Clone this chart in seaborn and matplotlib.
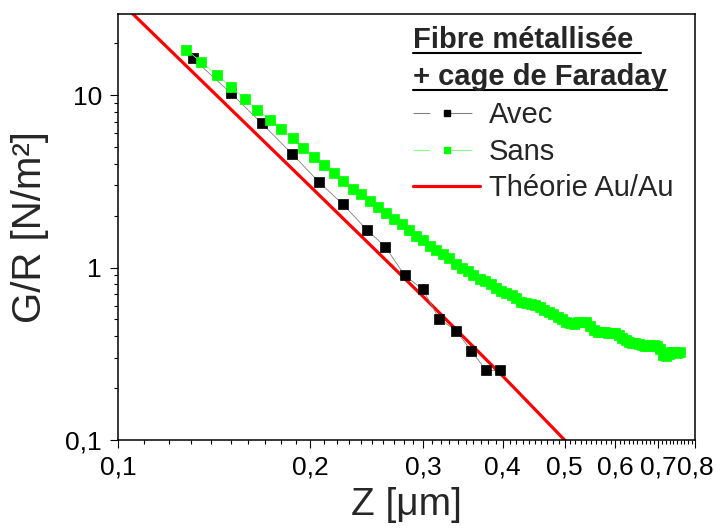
import matplotlib
matplotlib.use('Agg')
import matplotlib.pyplot as plt
import seaborn as sns
import numpy as np
from matplotlib.lines import Line2D
from matplotlib.ticker import FixedLocator, FixedFormatter, LogLocator, NullFormatter

# Data (log-log)
avec_z = [0.131, 0.150, 0.168, 0.187, 0.206, 0.225, 0.245, 0.262, 0.281, 0.300,
          0.318, 0.338, 0.357, 0.377, 0.396]
avec_g = [16.3, 10.3, 6.84, 4.58, 3.15, 2.32, 1.66, 1.32, 0.90, 0.746,
          0.506, 0.431, 0.330, 0.253, 0.253]

sans_z = [0.128, 0.135, 0.143, 0.150, 0.158, 0.165, 0.173, 0.180, 0.188, 0.195,
          0.203, 0.210, 0.218, 0.225, 0.233, 0.240, 0.248, 0.255, 0.263, 0.270,
          0.278, 0.285, 0.293, 0.300, 0.308, 0.315, 0.323, 0.330, 0.338, 0.345,
          0.353, 0.360, 0.368, 0.375, 0.383, 0.390, 0.398, 0.405, 0.413, 0.420,
          0.428, 0.435, 0.443, 0.450, 0.458, 0.465, 0.473, 0.480, 0.488, 0.495,
          0.503, 0.510, 0.518, 0.525, 0.533, 0.540, 0.548, 0.555, 0.563, 0.570,
          0.578, 0.585, 0.593, 0.600, 0.608, 0.615, 0.623, 0.630, 0.638, 0.645,
          0.653, 0.660, 0.668, 0.675, 0.683, 0.690, 0.698, 0.705, 0.713, 0.720,
          0.728, 0.735, 0.743, 0.750, 0.758]
sans_g = [18.3, 15.5, 13.1, 11.2, 9.5, 8.2, 7.2, 6.35, 5.6, 4.95,
          4.35, 3.92, 3.55, 3.17, 2.87, 2.66, 2.42, 2.23, 2.06, 1.92,
          1.78, 1.65, 1.53, 1.44, 1.34, 1.27, 1.19, 1.13, 1.05, 1.00,
          0.96, 0.90, 0.86, 0.83, 0.80, 0.76, 0.735, 0.71, 0.69, 0.665,
          0.635, 0.625, 0.615, 0.61, 0.59, 0.57, 0.555, 0.535, 0.515, 0.50,
          0.485, 0.475, 0.47, 0.48, 0.485, 0.48, 0.46, 0.435, 0.425, 0.425,
          0.425, 0.42, 0.418, 0.415, 0.405, 0.39, 0.378, 0.37, 0.365, 0.365,
          0.36, 0.355, 0.35, 0.352, 0.356, 0.355, 0.35, 0.335, 0.31, 0.305,
          0.315, 0.325, 0.322, 0.32, 0.322]

theory_z = [0.1, 0.15, 0.2, 0.3, 0.4, 0.5, 0.55]
theory_g = [35.8, 8.31, 2.95, 0.681, 0.235, 0.1, 0.0696]

x_ticks = [0.1, 0.2, 0.3, 0.4, 0.5, 0.6, 0.7, 0.8]
x_labels = ['0,1', '0,2', '0,3', '0,4', '0,5', '0,6', '0,7', '0,8']
y_ticks = [0.1, 1, 10]
y_labels = ['0,1', '1', '10']

sns.set_style('ticks')
plt.rcParams['font.family'] = ['Liberation Sans', 'DejaVu Sans']

W, H = 716, 532
fig = plt.figure(figsize=(W / 100, H / 100), dpi=100)
ax = fig.add_axes([118 / W, 1 - 440 / H, (695 - 118) / W, (440 - 14) / H])
ax.set_xscale('log')
ax.set_yscale('log')

# theory under the data, then Avec, then Sans on top
sns.lineplot(x=theory_z, y=theory_g, ax=ax, color='#ff0000', lw=2.3,
             sort=False, legend=False, zorder=2)
sns.lineplot(x=avec_z, y=avec_g, ax=ax, color='#808080', lw=0.6, marker='s',
             markersize=6.5, markerfacecolor='black', markeredgecolor='black',
             markeredgewidth=0.5, sort=False, legend=False, zorder=3)
sns.lineplot(x=sans_z, y=sans_g, ax=ax, color='#80ff80', lw=0.6, marker='s',
             markersize=7, markerfacecolor='#00ff00', markeredgecolor='#00ff00',
             markeredgewidth=0.5, sort=False, legend=False, zorder=4)

ax.set_xlim(0.1, 0.8)
ax.set_ylim(0.1, 29.5)

ax.xaxis.set_major_locator(FixedLocator(x_ticks))
ax.xaxis.set_major_formatter(FixedFormatter(x_labels))
minor_x = [v for v in np.round(np.arange(0.11, 0.80, 0.01), 2) if v not in x_ticks]
ax.xaxis.set_minor_locator(FixedLocator(minor_x))
ax.xaxis.set_minor_formatter(NullFormatter())
ax.yaxis.set_major_locator(FixedLocator(y_ticks))
ax.yaxis.set_major_formatter(FixedFormatter(y_labels))
ax.yaxis.set_minor_locator(LogLocator(base=10, subs=range(2, 10)))
ax.yaxis.set_minor_formatter(NullFormatter())

ax.tick_params(which='both', direction='out', top=False, right=False,
               color='black', width=0.8, labelsize=19, labelcolor='black')
ax.tick_params(which='major', length=5.5)
ax.tick_params(which='minor', length=3)
ax.tick_params(axis='x', which='major', pad=6)
ax.tick_params(axis='y', which='major', pad=6)
for s in ax.spines.values():
    s.set_linewidth(1.1)
    s.set_color('black')

ax.set_xlabel('Z [μm]', fontsize=28, labelpad=5)
ax.set_ylabel('G/R [N/m²]', fontsize=29, labelpad=12)

# legend title, bold and underlined
t1 = fig.text(413 / W, 1 - 48 / H, 'Fibre métallisée ', fontsize=21,
              fontweight='bold', va='baseline', ha='left')
t2 = fig.text(413 / W, 1 - 85 / H, '+ cage de Faraday', fontsize=21,
              fontweight='bold', va='baseline', ha='left')

h_avec = Line2D([], [], color='#808080', lw=0.8, ls=(0, (15, 18, 20)),
                marker='s', markersize=4.5, markerfacecolor='black',
                markeredgecolor='black')
h_sans = Line2D([], [], color='#80ff80', lw=0.8, ls=(0, (15, 18, 20)),
                marker='s', markersize=4.5, markerfacecolor='#00ff00',
                markeredgecolor='#00ff00')
h_th = Line2D([], [], color='#ff0000', lw=2.3)
ax.legend([h_avec, h_sans, h_th], ['Avec', 'Sans', 'Théorie Au/Au'],
          loc='upper left', bbox_to_anchor=(413 / W, 1 - 101 / H),
          bbox_transform=fig.transFigure, frameon=False, fontsize=21,
          handlelength=2.3, handletextpad=0.3, labelspacing=0.3,
          borderpad=0, borderaxespad=0, numpoints=1)

fig.canvas.draw()
r = fig.canvas.get_renderer()
for t, uy in ((t1, 53), (t2, 90)):
    bb = t.get_window_extent(r)
    fig.add_artist(Line2D([bb.x0 / W, bb.x1 / W], [1 - uy / H, 1 - uy / H],
                          transform=fig.transFigure, color='black', lw=1.5))

fig.savefig('out.png', dpi=100)
